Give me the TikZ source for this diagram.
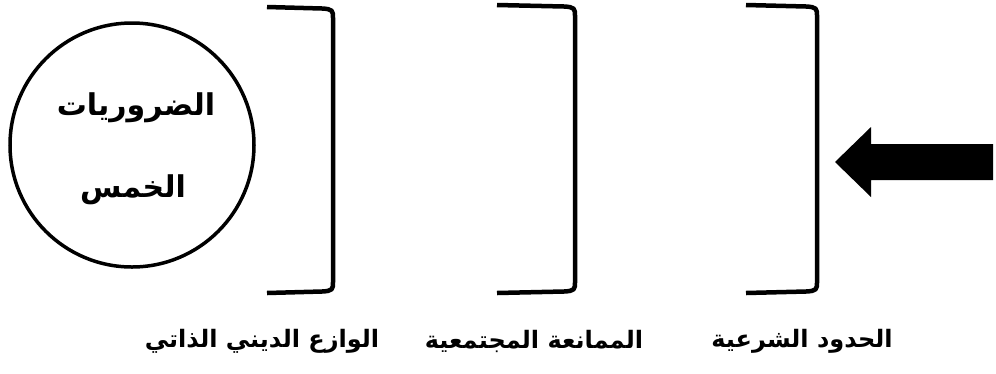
\documentclass[tikz,border=0pt]{standalone}
\usepackage{fontspec}
\TeXXeTstate=1
\newfontfamily\arabicfont[Script=Arabic]{DejaVu Sans}
\begin{document}
\begin{tikzpicture}[x=1pt,y=-1pt,
  bracketline/.style={line width=4.5pt, line cap=butt, line join=round},
  lbl/.style={font=\arabicfont\bfseries\fontsize{24}{28}\selectfont, inner sep=0pt, anchor=center},
  ctext/.style={font=\arabicfont\bfseries\fontsize{30}{34}\selectfont, inner sep=0pt, anchor=center}]
\useasboundingbox (0,0) rectangle (996,373);
% circle
\node[draw, circle, line width=3.5pt, minimum size=244pt, inner sep=0pt] (core) at (132,145) {};
\node[ctext] (t1) at (136,108) {\beginR الضروريات\endR};
\node[ctext] (t2) at (133,190) {\beginR الخمس\endR};
% brackets
\draw[bracketline] (267,7) -- (322,8.5) .. controls (333,9) and (333,11) .. (333,18) -- (333,282) .. controls (333,289) and (333,291) .. (322,291.5) -- (267,293);
\draw[bracketline] (497,5) -- (564,6.5) .. controls (575,7) and (575,9) .. (575,16) -- (575,282) .. controls (575,289) and (575,291) .. (564,291.5) -- (497,293);
\draw[bracketline] (746,5) -- (806,6.5) .. controls (817,7) and (817,9) .. (817,16) -- (817,282) .. controls (817,289) and (817,291) .. (806,291.5) -- (746,293);
% arrow
\fill (835,162) -- (871,127) -- (871,144) -- (993,144) -- (993,180) -- (871,180) -- (871,197) -- cycle;
% labels
\node[lbl] (l1) at (262,341) {\beginR الوازع الديني الذاتي\endR};
\node[lbl] (l2) at (534,341) {\beginR الممانعة المجتمعية\endR};
\node[lbl] (l3) at (802,341) {\beginR الحدود الشرعية\endR};
\end{tikzpicture}
\end{document}
